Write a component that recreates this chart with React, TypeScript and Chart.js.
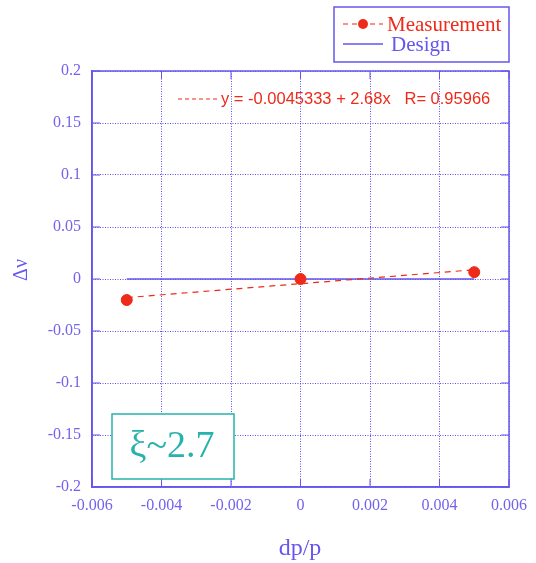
import React, { useEffect, useRef } from "react";
import { Chart, registerables } from "chart.js";

Chart.register(...registerables);

// ---- data ----
const measX = [-0.005, 0, 0.005];
const measDv = [-0.0202, 0, 0.0066];
const fitX = [-0.005, 0.005];
const fitDv = [-0.0179, 0.0089];
const designX = [-0.005, 0.005];
const designDv = [0, 0];
const xTicks = [-0.006, -0.004, -0.002, 0, 0.002, 0.004, 0.006];
const yTicks = [-0.2, -0.15, -0.1, -0.05, 0, 0.05, 0.1, 0.15, 0.2];
const legendLabels = ["Measurement", "Design"];
const fitLabel = "y = -0.0045333 + 2.68x   R= 0.95966";
const annotationText = "ξ~2.7";
const xTitle = "dp/p";
const yTitle = "Δν";

// ---- styles ----
const BLUE = "#6655ee";
const TEXT_BLUE = "#7462ee";
const GRID_BLUE = "#5a4cf6";
const RED = "#ee2a1a";
const TEAL = "#27b3ad";
const SERIF = "'Liberation Serif', 'DejaVu Serif', serif";
const SANS = "'Liberation Sans', Arial, sans-serif";

const fmt = (v: number, d: number) => String(Number(Number(v).toFixed(d)));

const decorPlugin = {
  id: "decor",
  beforeDatasetsDraw(chart: any) {
    const ctx = chart.ctx;
    const { left, right, top, bottom } = chart.chartArea;
    const xs = chart.scales.x;
    const ys = chart.scales.y;
    ctx.save();
    // frame
    ctx.strokeStyle = BLUE;
    ctx.lineWidth = 1.5;
    ctx.setLineDash([]);
    ctx.strokeRect(left, top, right - left, bottom - top);
    // inward tick marks
    ctx.lineWidth = 1;
    const tl = 8;
    xTicks.forEach((v) => {
      const px = xs.getPixelForValue(v);
      ctx.beginPath();
      ctx.moveTo(px, bottom);
      ctx.lineTo(px, bottom - tl);
      ctx.moveTo(px, top);
      ctx.lineTo(px, top + tl);
      ctx.stroke();
    });
    yTicks.forEach((v) => {
      const py = ys.getPixelForValue(v);
      ctx.beginPath();
      ctx.moveTo(left, py);
      ctx.lineTo(left + tl, py);
      ctx.moveTo(right, py);
      ctx.lineTo(right - tl, py);
      ctx.stroke();
    });
    // annotation box
    const bx = 112, by = 414, bw = 122, bh = 65;
    ctx.fillStyle = "#ffffff";
    ctx.fillRect(bx, by, bw, bh);
    ctx.strokeStyle = TEAL;
    ctx.lineWidth = 1.5;
    ctx.strokeRect(bx, by, bw, bh);
    ctx.fillStyle = TEAL;
    ctx.font = `38px ${SERIF}`;
    ctx.textAlign = "center";
    ctx.textBaseline = "middle";
    ctx.fillText(annotationText, bx + bw / 2 - 1, by + bh / 2 + 1);
    // fit label
    ctx.strokeStyle = RED;
    ctx.lineWidth = 1;
    ctx.setLineDash([4, 3]);
    ctx.beginPath();
    ctx.moveTo(178, 99);
    ctx.lineTo(218, 99);
    ctx.stroke();
    ctx.setLineDash([]);
    ctx.fillStyle = RED;
    ctx.font = `16.5px ${SANS}`;
    ctx.textAlign = "left";
    ctx.textBaseline = "middle";
    ctx.fillText(fitLabel, 221, 99);
    ctx.restore();
  },
  afterDraw(chart: any) {
    const ctx = chart.ctx;
    ctx.save();
    // legend box
    ctx.fillStyle = "#ffffff";
    ctx.fillRect(334, 7, 175, 55);
    ctx.strokeStyle = BLUE;
    ctx.lineWidth = 1.5;
    ctx.strokeRect(334, 7, 175, 55);
    // measurement entry
    ctx.strokeStyle = RED;
    ctx.lineWidth = 1.2;
    ctx.setLineDash([5, 4]);
    ctx.beginPath();
    ctx.moveTo(343, 24);
    ctx.lineTo(383, 24);
    ctx.stroke();
    ctx.setLineDash([]);
    ctx.fillStyle = RED;
    ctx.beginPath();
    ctx.arc(363, 24, 5, 0, Math.PI * 2);
    ctx.fill();
    ctx.font = `21px ${SERIF}`;
    ctx.textAlign = "left";
    ctx.textBaseline = "middle";
    ctx.fillText(legendLabels[0], 387, 25);
    // design entry
    ctx.strokeStyle = BLUE;
    ctx.lineWidth = 1.5;
    ctx.beginPath();
    ctx.moveTo(343, 44);
    ctx.lineTo(383, 44);
    ctx.stroke();
    ctx.fillStyle = BLUE;
    ctx.fillText(legendLabels[1], 391, 45);
    // axis titles
    ctx.fillStyle = BLUE;
    ctx.font = `24px ${SERIF}`;
    ctx.textAlign = "center";
    ctx.textBaseline = "middle";
    ctx.fillText(xTitle, 300, 549);
    ctx.translate(22, 270);
    ctx.rotate(-Math.PI / 2);
    ctx.font = `20px ${SERIF}`;
    ctx.fillText(yTitle, 0, 0);
    ctx.restore();
  },
};

export default function App() {
  const ref = useRef<HTMLCanvasElement | null>(null);
  useEffect(() => {
    if (!ref.current) return;
    const chart = new Chart(ref.current, {
      type: "scatter",
      data: {
        datasets: [
          {
            label: legendLabels[0],
            data: measX.map((x, i) => ({ x, y: measDv[i] })),
            backgroundColor: RED,
            borderColor: RED,
            pointRadius: 5.5,
            pointHoverRadius: 5.5,
            showLine: false,
          },
          {
            label: "fit",
            data: fitX.map((x, i) => ({ x, y: fitDv[i] })),
            borderColor: RED,
            borderWidth: 1.2,
            borderDash: [6, 5],
            pointRadius: 0,
            showLine: true,
          },
          {
            label: legendLabels[1],
            data: designX.map((x, i) => ({ x, y: designDv[i] })),
            borderColor: BLUE,
            borderWidth: 1.5,
            pointRadius: 0,
            showLine: true,
          },
        ],
      },
      options: {
        animation: false,
        responsive: false,
        events: [],
        layout: { padding: { top: 71, right: 26, left: 0, bottom: 0 } },
        plugins: { legend: { display: false }, tooltip: { enabled: false } },
        scales: {
          x: {
            type: "linear",
            min: -0.006,
            max: 0.006,
            afterFit: (s: any) => {
              s.height = 76;
            },
            afterBuildTicks: (s: any) => {
              s.ticks = xTicks.map((v) => ({ value: v }));
            },
            grid: { color: GRID_BLUE, lineWidth: 1, drawTicks: false },
            border: { color: BLUE, width: 1.5, dash: [1, 1.5] },
            ticks: {
              color: TEXT_BLUE,
              font: { family: SERIF, size: 16 },
              padding: 9,
              maxRotation: 0,
              callback: (v: any) => fmt(v, 4),
            },
          },
          y: {
            type: "linear",
            min: -0.2,
            max: 0.2,
            afterFit: (s: any) => {
              s.width = 92;
            },
            afterBuildTicks: (s: any) => {
              s.ticks = yTicks.map((v) => ({ value: v }));
            },
            grid: { color: GRID_BLUE, lineWidth: 1, drawTicks: false },
            border: { color: BLUE, width: 1.5, dash: [1, 1.5] },
            ticks: {
              color: TEXT_BLUE,
              font: { family: SERIF, size: 16 },
              padding: 11,
              callback: (v: any) => fmt(v, 3),
            },
          },
        },
      },
      plugins: [decorPlugin],
    });
    return () => chart.destroy();
  }, []);
  return (
    <div style={{ position: "fixed", left: 0, top: 0, width: 536, height: 563, background: "#fff" }}>
      <canvas ref={ref} width={536} height={563} style={{ display: "block" }} />
    </div>
  );
}
